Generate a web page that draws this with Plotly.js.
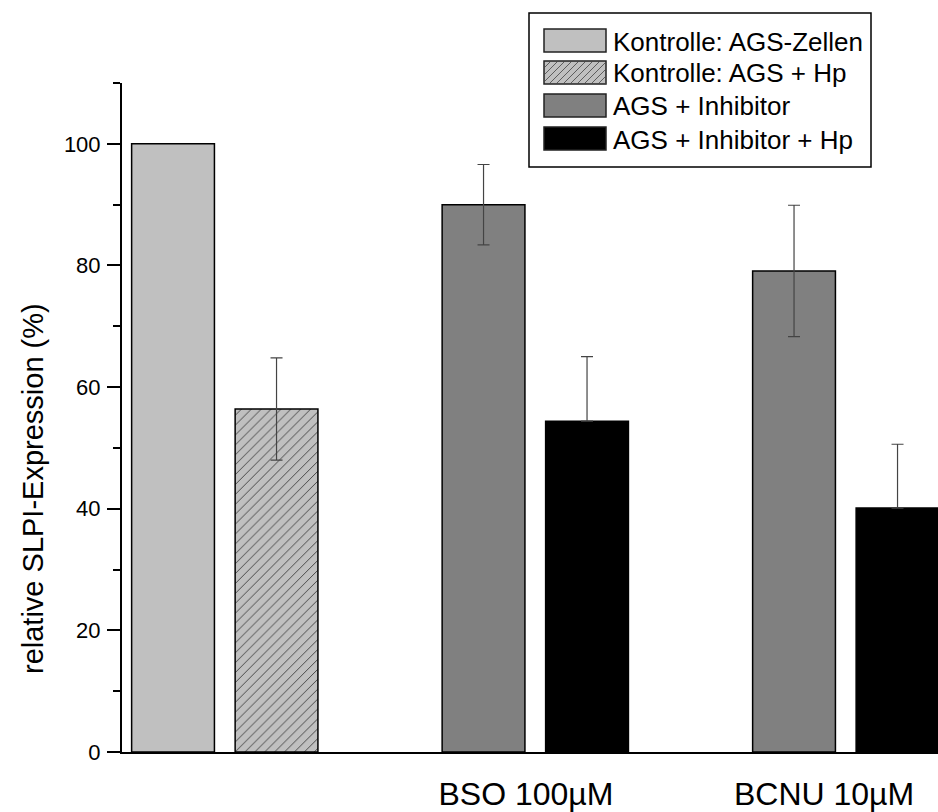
<!DOCTYPE html>
<html>
<head>
<meta charset="utf-8">
<script src="https://cdn.plot.ly/plotly-3.0.1.min.js"></script>
<style>html,body{margin:0;padding:0;background:#fff;}</style>
</head>
<body>
<div id="chart" style="width:938px;height:812px;"></div>
<script>
// ---- data ----
const seriesNames = ["Kontrolle: AGS-Zellen", "Kontrolle: AGS + Hp", "AGS + Inhibitor", "AGS + Inhibitor + Hp"];
const ctrlX = [0];
const ctrlY = [100];
const ctrlHpX = [1];
const ctrlHpY = [56.4];
const ctrlHpErr = [8.4];
const inhX = [3, 6];
const inhY = [90.0, 79.1];
const inhErr = [6.6, 10.8];
const inhHpX = [4, 7];
const inhHpY = [54.4, 40.1];
const inhHpErr = [10.6, 10.5];
const inhHpErrMinus = [0, 0];   // lower whisker is hidden inside the black bar
const groupTickVals = [3.41, 6.29];
const groupTickText = ["BSO 100µM", "BCNU 10µM"];
const yTitle = "relative SLPI-Expression (%)";

// ---- geometry helpers (pixel -> paper) ----
const W = 938, H = 812, L = 122, R = 938, T = 83, B = 752;
const px = x => (x - L) / (R - L);
const py = y => (B - y) / (B - T);
const FONT = "Arial, 'Liberation Sans', sans-serif";

const errStyle = {type: 'data', visible: true, color: '#444', thickness: 1.2, width: 6};
const barLine = {color: '#000', width: 1.5};

const traces = [
  {type: 'bar', x: ctrlX, y: ctrlY, width: 0.8, name: seriesNames[0],
   marker: {color: '#c0c0c0', line: barLine}},
  {type: 'bar', x: ctrlHpX, y: ctrlHpY, width: 0.8, name: seriesNames[1],
   marker: {color: '#c0c0c0', line: barLine,
            pattern: {shape: '/', bgcolor: '#c0c0c0', fgcolor: '#333', size: 7, solidity: 0.12, fillmode: 'replace'}},
   error_y: Object.assign({array: ctrlHpErr}, errStyle)},
  {type: 'bar', x: inhX, y: inhY, width: 0.8, name: seriesNames[2],
   marker: {color: '#808080', line: barLine},
   error_y: Object.assign({array: inhErr}, errStyle)},
  {type: 'bar', x: inhHpX, y: inhHpY, width: 0.8, name: seriesNames[3],
   marker: {color: '#000000', line: barLine},
   error_y: Object.assign({array: inhHpErr, arrayminus: inhHpErrMinus, symmetric: false}, errStyle)}
];

// ---- custom legend ----
const shapes = [];
const annotations = [];
shapes.push({type: 'rect', xref: 'paper', yref: 'paper',
  x0: px(529), x1: px(871), y0: py(13), y1: py(167),
  line: {color: '#000', width: 1.5}, fillcolor: '#fff', layer: 'above'});
const swFill = ['#c0c0c0', '#c0c0c0', '#808080', '#000000'];
const rowTop = [29, 61, 94, 127];
const swH = 23, swX0 = 544, swX1 = 606;
for (let i = 0; i < 4; i++) {
  const y0 = rowTop[i], y1 = rowTop[i] + swH;
  shapes.push({type: 'rect', xref: 'paper', yref: 'paper',
    x0: px(swX0), x1: px(swX1), y0: py(y1), y1: py(y0),
    line: {color: '#222', width: 1.5}, fillcolor: swFill[i], layer: 'above'});
  if (i === 1) {
    let path = '';
    for (let s = swX0 - swH; s < swX1; s += 7) {
      let xa = s, ya = y1, xb = s + swH, yb = y0;
      if (xa < swX0) { ya = y1 - (swX0 - xa); xa = swX0; }
      if (xb > swX1) { yb = y0 + (xb - swX1); xb = swX1; }
      if (xb <= xa) continue;
      path += `M${px(xa)},${py(ya)}L${px(xb)},${py(yb)}`;
    }
    shapes.push({type: 'path', xref: 'paper', yref: 'paper', path: path,
      line: {color: '#444', width: 0.8}, layer: 'above'});
  }
  annotations.push({xref: 'paper', yref: 'paper', x: px(611), y: py((y0 + y1) / 2 + 1),
    xanchor: 'left', yanchor: 'middle', showarrow: false, text: seriesNames[i],
    font: {family: FONT, size: 26, color: '#000'}});
}
annotations.push({xref: 'paper', yref: 'paper', x: px(33), y: py(489),
  xanchor: 'center', yanchor: 'middle', showarrow: false, textangle: -90,
  text: yTitle, font: {family: FONT, size: 29, color: '#000'}});

const layout = {
  width: W, height: H,
  margin: {l: L, r: W - R, t: T, b: H - B, pad: 0},
  paper_bgcolor: '#fff', plot_bgcolor: '#fff',
  showlegend: false,
  barmode: 'overlay',
  font: {family: FONT, color: '#000'},
  xaxis: {range: [-0.493, 7.391], showgrid: false, zeroline: false,
    showline: true, linecolor: '#000', linewidth: 2,
    ticks: '', tickvals: groupTickVals, ticktext: groupTickText,
    tickfont: {family: FONT, size: 32, color: '#000'}, ticklabelstandoff: 13},
  yaxis: {range: [0, 110], showgrid: false, zeroline: false,
    showline: true, linecolor: '#000', linewidth: 2,
    ticks: 'outside', ticklen: 13, tickwidth: 2, tickcolor: '#000',
    tickvals: [0, 20, 40, 60, 80, 100],
    minor: {tickvals: [10, 30, 50, 70, 90, 110], ticks: 'outside', ticklen: 7, tickwidth: 2, tickcolor: '#000'},
    tickfont: {family: FONT, size: 22, color: '#000'}, ticklabelstandoff: 2},
  shapes: shapes,
  annotations: annotations
};

Plotly.newPlot('chart', traces, layout, {staticPlot: true, displayModeBar: false});
</script>
</body>
</html>
